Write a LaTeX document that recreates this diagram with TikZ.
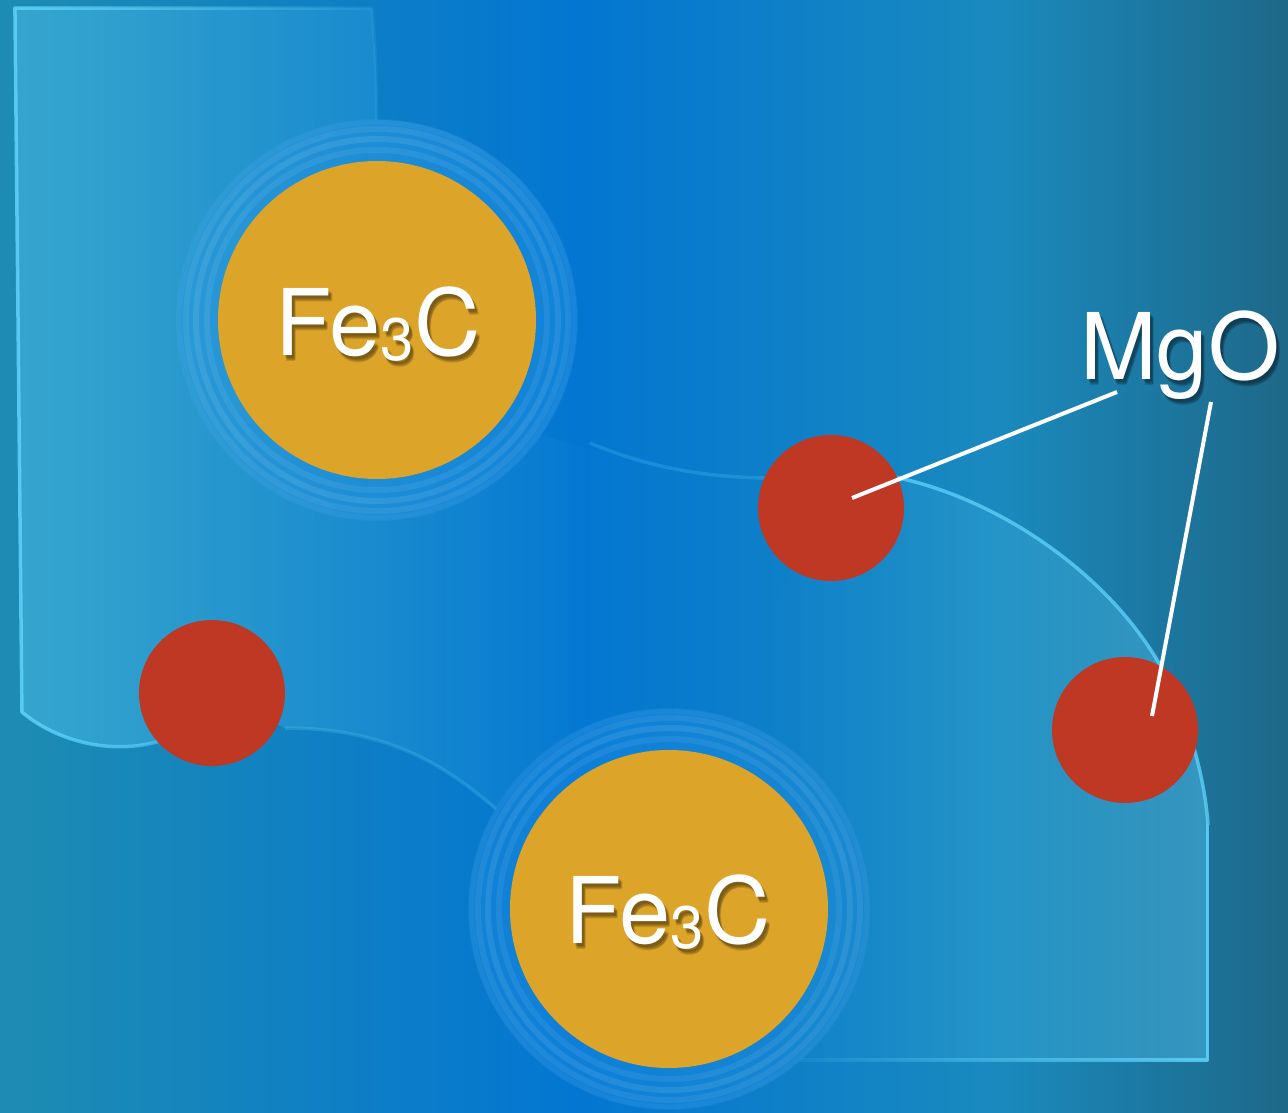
\documentclass[tikz,border=0pt]{standalone}
\usepackage{fontspec}
\setmainfont{TeX Gyre Heros}
\usetikzlibrary{calc,fadings}
\definecolor{BgLeftClr}{RGB}{30,140,178}
\definecolor{BgMidClr}{RGB}{3,118,210}
\definecolor{BgRightAClr}{RGB}{26,138,190}
\definecolor{BgRightClr}{RGB}{30,104,136}
\definecolor{EdgeClr}{RGB}{95,212,252}
\definecolor{GrainClr}{RGB}{90,205,250}
\definecolor{HaloClr}{RGB}{40,150,235}
\definecolor{CarbideClr}{RGB}{220,164,40}
\definecolor{OxideClr}{RGB}{190,56,36}

\tikzfading[name=soft right,left color=transparent!0,right color=transparent!90]
\tikzfading[name=soft left,left color=transparent!90,right color=transparent!0]

\newcommand{\FeC}{Fe\raisebox{-5pt}{\fontsize{60}{60}\selectfont 3}C}

\begin{document}
\begin{tikzpicture}[x=1pt,y=-1pt,
  carbide/.style={circle,fill=CarbideClr,minimum size=318pt,inner sep=0pt},
  oxide/.style={circle,fill=OxideClr,minimum size=146pt,inner sep=0pt},
  halo/.style={white,line width=6pt},
  edgeline/.style={EdgeClr,line width=3.5pt,line join=round},
  faintline/.style={EdgeClr,line width=3.5pt,opacity=.22},
  leader/.style={white,line width=4pt},
  chem/.style={text=white,font=\fontsize{92}{92}\selectfont,inner sep=0pt,anchor=base},
  chemshadow/.style={chem,text=black,text opacity=.13}]

\useasboundingbox (0,0) rectangle (1288,1113);

\shade[left color=BgLeftClr,right color=BgMidClr] (0,0) rectangle (581,1113);
\shade[left color=BgMidClr,right color=BgRightAClr] (580,0) rectangle (1001,1113);
\shade[left color=BgRightAClr,right color=BgRightClr] (1000,0) rectangle (1288,1113);

\coordinate (pA) at (377,320);
\coordinate (pB) at (669,909);

% grains, lit from the outer edge
\begin{scope}
  \clip (15,8) -- (372,8) .. controls (376,50) and (377,90) .. (377,120)
    arc[start angle=-90,end angle=35,radius=200]
    .. controls (620,458) and (700,484) .. (830,476)
    .. controls (800,560) and (760,640) .. (737,721)
    arc[start angle=-70,end angle=-150,radius=200]
    .. controls (440,760) and (380,728) .. (285,728) -- (212,693) -- (155,742)
    .. controls (110,756) and (55,740) .. (22,712) -- cycle;
  \foreach \i in {0,...,39}{
    \pgfmathsetmacro\op{.4*(1-\i/40)}
    \fill[GrainClr,opacity=\op] ({15+\i*15},0) rectangle ({30+\i*15},1113);
  }
\end{scope}
\begin{scope}
  \clip (830,470) .. controls (960,470) and (1100,560) .. (1160,665)
    .. controls (1190,720) and (1205,780) .. (1208,825) -- (1208,1060) -- (800,1060)
    arc[start angle=49,end angle=-80,radius=200]
    .. controls (760,640) and (800,560) .. (830,470) -- cycle;
  \foreach \i in {0,...,39}{
    \pgfmathsetmacro\op{.4*(1-\i/40)^1.5}
    \fill[GrainClr,opacity=\op] ({1196-\i*12},0) rectangle ({1208-\i*12},1113);
  }
\end{scope}

\draw[edgeline,opacity=.85,path fading=soft right] (377,120)
  .. controls (377,90) and (376,50) .. (372,8) -- (15,8) -- (22,712)
  .. controls (55,740) and (110,756) .. (160,741);
\draw[edgeline,opacity=.75] (830,470) .. controls (960,470) and (1100,560) .. (1160,665)
  .. controls (1190,720) and (1205,780) .. (1208,825);
\draw[edgeline,opacity=.85,path fading=soft left] (1208,825) -- (1208,1060) -- (800,1060);
\draw[faintline] (590,443) .. controls (650,468) and (720,484) .. (830,476);
\draw[faintline] (285,728) .. controls (380,728) and (440,760) .. (496,809);

% halos round the carbides
\foreach \p in {pA,pB}{
  \fill[HaloClr,opacity=.3] (\p) circle (200);
  \foreach \r/\o in {170/.07,181/.09,191/.07,198/.04}
    \draw[halo,opacity=\o] (\p) circle (\r);
}

\node[carbide] (fe1) at (pA) {};
\node[carbide] (fe2) at (pB) {};

\node[oxide] (ox1) at (212,693) {};
\node[oxide] (ox2) at (831,508) {};
\node[oxide] (ox3) at (1125,730) {};

\foreach \dx/\dy [count=\i] in {2/3,3/4,4/5,3/6}{
  \node[chemshadow] (fe1s\i) at ($(378,355)+(\dx,\dy)$) {\FeC};
  \node[chemshadow] (fe2s\i) at ($(668,943)+(\dx,\dy)$) {\FeC};
  \node[chemshadow] (mgos\i) at ($(1180,379)+(\dx,\dy)$) {MgO};
}
\node[chem] (fe1txt) at (378,355) {\FeC};
\node[chem] (fe2txt) at (668,943) {\FeC};
\node[chem] (mgo) at (1180,379) {MgO};

\draw[leader] ($(mgo.base)+(-63,13)$) -- ($(ox2)+(21,-10)$);
\draw[leader] ($(mgo.base)+(31,23)$) -- ($(ox3)+(27,-14)$);

\end{tikzpicture}
\end{document}
